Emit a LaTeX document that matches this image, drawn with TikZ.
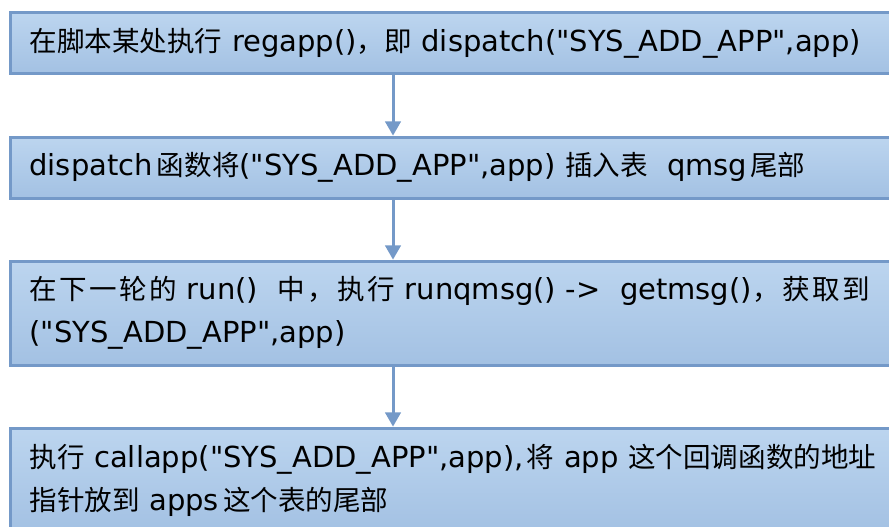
\documentclass[tikz,border=0pt]{standalone}
\usepackage{fontspec}
\setmainfont{DejaVu Sans}[Ligatures=TeXOff]
\newfontfamily\cjk{Noto Sans CJK SC}[Scale=0.95]
\newfontfamily\cjkwide{Noto Sans CJK SC}[Scale=0.95,LetterSpace=9]
\usepackage{tikz}
\usetikzlibrary{arrows,positioning}
\definecolor{boxtop}{HTML}{BCD5EF}
\definecolor{boxbot}{HTML}{A3C1E3}
\definecolor{boxline}{HTML}{7499C8}
\newcommand{\zh}[1]{{\cjk #1}}
\newcommand{\zhw}[1]{{\cjkwide #1}}
\tikzset{
	stepbox/.style = {rectangle, draw=boxline, line width=3pt,
		top color=boxtop, bottom color=boxbot, align=left,
		text width=870pt, inner xsep=19.5pt, inner ysep=0pt,
		font=\fontsize{29}{43}\selectfont},
	flow/.style = {->, >=triangle 60, draw=boxline, line width=3pt}
}

\begin{document}
\begin{tikzpicture}[node distance=60pt]
\clip (0,0) rectangle (889pt,-527pt);
\node [stepbox, minimum height=61pt, anchor=north west] (regapp) at (8.5pt,-11.5pt)
	{\zh{在脚本某处执行} regapp()\zh{，即} dispatch("SYS\_ADD\_APP",app)};
\node [stepbox, minimum height=61pt, below=of regapp] (insert)
	{dispatch\hspace{4pt}\zh{函数将}("SYS\_ADD\_APP",app) \zh{插入表}\ \ qmsg\hspace{3pt}\zh{尾部}};
\node [stepbox, minimum height=104pt, below=of insert] (run)
	{\zhw{在下一轮的} run()\ \ \zhw{中，执行} runqmsg()\ ->\ \ getmsg()\zhw{，获取到}\\
	("SYS\_ADD\_APP",app)};
\node [stepbox, minimum height=104pt, below=of run] (callapp)
	{\zh{执行} callapp("SYS\_ADD\_APP",app),\hspace{3pt}\zh{将} app \zh{这个回调函数的地址}\\
	\zh{指针放到} apps\hspace{4pt}\zh{这个表的尾部}};
\coordinate (ax) at (393pt,0);
\draw [flow] (regapp.south -| ax) -- (insert.north -| ax);
\draw [flow] (insert.south -| ax) -- (run.north -| ax);
\draw [flow] (run.south -| ax) -- (callapp.north -| ax);
\end{tikzpicture}
\end{document}
